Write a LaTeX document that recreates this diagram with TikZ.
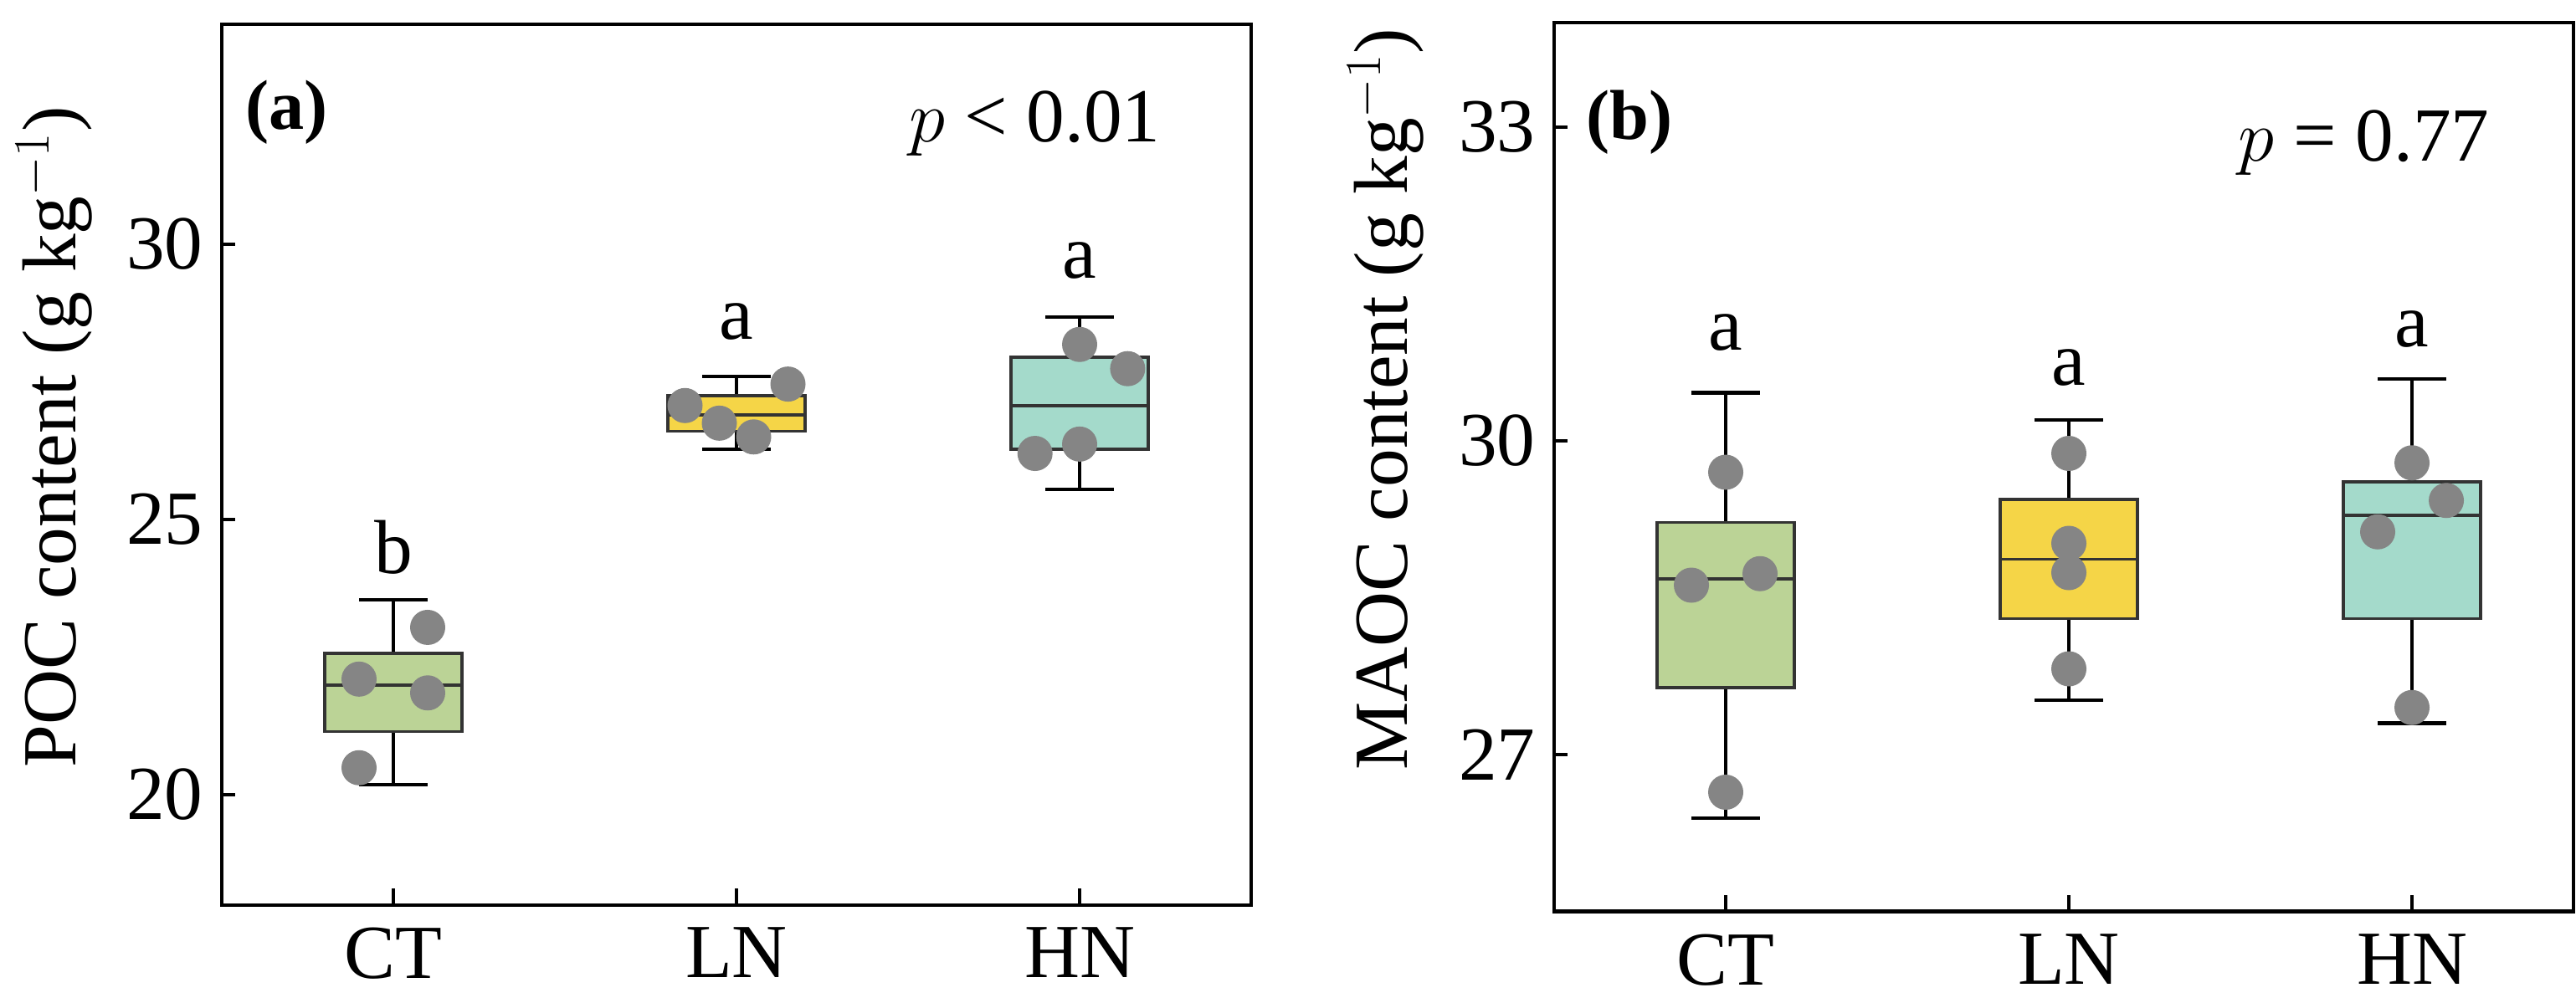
\documentclass[tikz,border=0pt]{standalone}
\usepackage{fontspec}
\setmainfont{Liberation Serif}
\usetikzlibrary{positioning}

\tikzset{
  frame/.style={line width=1.2pt},
  bx/.style={draw=black!80, line width=1pt},
  wh/.style={line width=1.2pt},
  pt/.style={circle, fill=black!48, inner sep=0pt, minimum size=0.42cm},
  lbl/.style={font=\fontsize{26}{30}\selectfont},
  tag/.style={font=\fontsize{24}{28}\selectfont\bfseries},
}
\definecolor{boxCT}{HTML}{BBD396}
\definecolor{boxLN}{HTML}{F5D547}
\definecolor{boxHN}{HTML}{A4DACB}

% x, lower whisker, q1, median, q3, upper whisker, colour
\newcommand{\bplot}[7]{
  \draw[wh] (#1,#2) -- (#1,#6);
  \draw[wh] (#1-0.1,#2) -- (#1+0.1,#2);
  \draw[wh] (#1-0.1,#6) -- (#1+0.1,#6);
  \filldraw[bx, fill=#7] (#1-0.2,#3) rectangle (#1+0.2,#5);
  \draw[bx] (#1-0.2,#4) -- (#1+0.2,#4);
}

\begin{document}
\begin{tikzpicture}
\useasboundingbox (0,0) rectangle (30.78,-11.92);

% panel a
\begin{scope}[x=4.1cm, y=0.658cm, shift={(0.6cm,-22.66cm)}]
\draw[frame] (0.5,18) rectangle (3.5,34);
\foreach \v in {20,25,30}
  \draw[frame] (0.5,\v) -- ++(0.04,0) node[lbl, left=0.25cm] (ya\v) {\v};
\foreach \c/\n in {1/CT,2/LN,3/HN}
  \draw[frame] (\c,18) -- ++(0,0.3) coordinate (ta\n);
\foreach \c/\n in {1/CT,2/LN,3/HN}
  \node[lbl, below=0.15cm] (xa\n) at (\c,18) {\n};
\node[lbl, rotate=90] (ylaba) at (0.012,26.5) {POC content (g kg$^{-1}$)};
\node[tag] (taga) at (0.69,32.4) {(a)};
\node[lbl] (pa) at (2.87,32.2) {$p$ < 0.01};

\bplot{1}{20.18}{21.15}{21.99}{22.57}{23.54}{boxCT}
\bplot{2}{26.28}{26.6}{26.9}{27.25}{27.6}{boxLN}
\bplot{3}{25.55}{26.28}{27.07}{27.95}{28.68}{boxHN}

\node[pt] (a1) at (0.9,22.1) {};
\node[pt] (a2) at (1.1,23.04) {};
\node[pt] (a3) at (1.1,21.85) {};
\node[pt] (a4) at (0.9,20.49) {};
\node[pt] (a5) at (1.85,27.07) {};
\node[pt] (a6) at (1.95,26.75) {};
\node[pt] (a7) at (2.05,26.5) {};
\node[pt] (a8) at (2.15,27.46) {};
\node[pt] (a9) at (3,28.18) {};
\node[pt] (a10) at (3.14,27.74) {};
\node[pt] (a11) at (2.87,26.2) {};
\node[pt] (a12) at (3,26.37) {};

\node[lbl] (ga1) at (1,24.5) {b};
\node[lbl] (ga2) at (2,28.6) {a};
\node[lbl] (ga3) at (3,29.7) {a};
\end{scope}

% panel b
\begin{scope}[x=4.1cm, y=1.25cm, shift={(16.52cm,-42.77cm)}]
\draw[frame] (0.5,25.5) rectangle (3.47,34);
\foreach \v in {27,30,33}
  \draw[frame] (0.5,\v) -- ++(0.04,0) node[lbl, left=0.25cm] (yb\v) {\v};
\foreach \c/\n in {1/CT,2/LN,3/HN}
  \draw[frame] (\c,25.5) -- ++(0,0.16) coordinate (tb\n);
\foreach \c/\n in {1/CT,2/LN,3/HN}
  \node[lbl, below=0.15cm] (xb\n) at (\c,25.5) {\n};
\node[lbl, rotate=90] (ylabb) at (0.01,30.4) {MAOC content (g kg$^{-1}$)};
\node[tag] (tagb) at (0.72,33.05) {(b)};
\node[lbl] (pb) at (2.86,32.85) {$p$ = 0.77};

\bplot{1}{26.39}{27.64}{28.68}{29.22}{30.46}{boxCT}
\bplot{2}{27.52}{28.3}{28.87}{29.44}{30.2}{boxLN}
\bplot{3}{27.3}{28.3}{29.29}{29.61}{30.59}{boxHN}

\node[pt] (b1) at (1,29.7) {};
\node[pt] (b2) at (0.9,28.62) {};
\node[pt] (b3) at (1.1,28.73) {};
\node[pt] (b4) at (1,26.64) {};
\node[pt] (b5) at (2,29.88) {};
\node[pt] (b6) at (2,29.02) {};
\node[pt] (b7) at (2,28.74) {};
\node[pt] (b8) at (2,27.82) {};
\node[pt] (b9) at (3,29.79) {};
\node[pt] (b10) at (3.1,29.43) {};
\node[pt] (b11) at (2.9,29.13) {};
\node[pt] (b12) at (3,27.45) {};

\node[lbl] (gb1) at (1,31.04) {a};
\node[lbl] (gb2) at (2,30.7) {a};
\node[lbl] (gb3) at (3,31.07) {a};
\end{scope}
\end{tikzpicture}
\end{document}
